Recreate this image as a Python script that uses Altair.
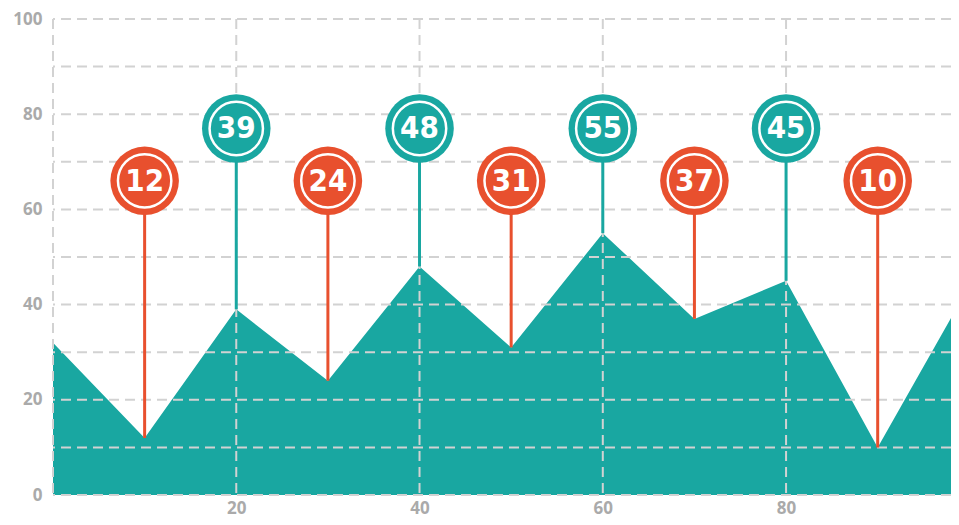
import altair as alt
import pandas as pd

xs = [0, 10, 20, 30, 40, 50, 60, 70, 80, 90, 100]
vals = [32, 12, 39, 24, 48, 31, 55, 37, 45, 10, 44]

pin_x = [10, 20, 30, 40, 50, 60, 70, 80, 90]
pin_val = [12, 39, 24, 48, 31, 55, 37, 45, 10]
pin_top = [66, 77, 66, 77, 66, 77, 66, 77, 66]
pin_kind = ["low", "high", "low", "high", "low", "high", "low", "high", "low"]

y_grid = [0, 10, 20, 30, 40, 50, 60, 70, 80, 90, 100]
x_grid = [0, 20, 40, 60, 80]
x_labels = [20, 40, 60, 80]
y_labels = [0, 20, 40, 60, 80, 100]

TEAL = "#19a7a1"
RED = "#e8502e"
GRID = "#d2d2d2"

area_df = pd.DataFrame({"x": xs, "y": vals})
pin_df = pd.DataFrame({"x": pin_x, "v": pin_val, "top": pin_top, "kind": pin_kind,
                       "label": [str(v) for v in pin_val]})
yg_df = pd.DataFrame({"y": y_grid})
xg_df = pd.DataFrame({"x": x_grid})

xscale = alt.Scale(domain=[0, 98], nice=False, zero=False)
yscale = alt.Scale(domain=[0, 100], nice=False)
color = alt.Color("kind:N", scale=alt.Scale(domain=["low", "high"], range=[RED, TEAL]), legend=None)

axis_kw = dict(grid=False, domain=False, ticks=False, labelColor="#aaaaaa", labelFontSize=17,
               labelFont="Open Sans", labelFontWeight="bold", title=None)

area = alt.Chart(area_df).mark_area(color=TEAL, clip=True, opacity=1).encode(
    x=alt.X("x:Q", scale=xscale, axis=alt.Axis(values=x_labels, labelPadding=5, **axis_kw)),
    y=alt.Y("y:Q", scale=yscale, axis=alt.Axis(values=y_labels, labelPadding=11, **axis_kw)),
)

hgrid = alt.Chart(yg_df).mark_rule(color=GRID, strokeWidth=2, strokeDash=[10, 6]).encode(
    y=alt.Y("y:Q", scale=yscale)
)
vgrid = alt.Chart(xg_df).mark_rule(color=GRID, strokeWidth=2, strokeDash=[10, 6]).encode(
    x=alt.X("x:Q", scale=xscale)
)

stems = alt.Chart(pin_df).mark_rule(strokeWidth=3).encode(
    x="x:Q", y="v:Q", y2="top:Q", color=color
)

outer = alt.Chart(pin_df).mark_point(filled=True, shape="circle", size=4700, opacity=1).encode(
    x="x:Q", y="top:Q", color=color
)

ring = alt.Chart(pin_df).mark_point(filled=False, shape="circle", size=2850, stroke="white",
                                    strokeWidth=2.5, opacity=1).encode(
    x="x:Q", y="top:Q"
)

text = alt.Chart(pin_df).mark_text(color="white",
                                   font="Liberation Sans Narrow, DejaVu Sans Condensed, sans-serif",
                                   fontWeight="bold", fontSize=31, baseline="middle",
                                   align="center", dy=1).encode(
    x="x:Q", y="top:Q", text="label:N"
)

chart = alt.layer(area, hgrid, vgrid, stems, outer, ring, text).properties(
    width=898, height=476,
    autosize=alt.AutoSizeParams(type="none"),
    padding={"left": 45, "top": 11, "right": 0, "bottom": 22},
).configure_view(stroke=None)

chart.save("out.html", embed_options={"renderer": "svg", "actions": False})
